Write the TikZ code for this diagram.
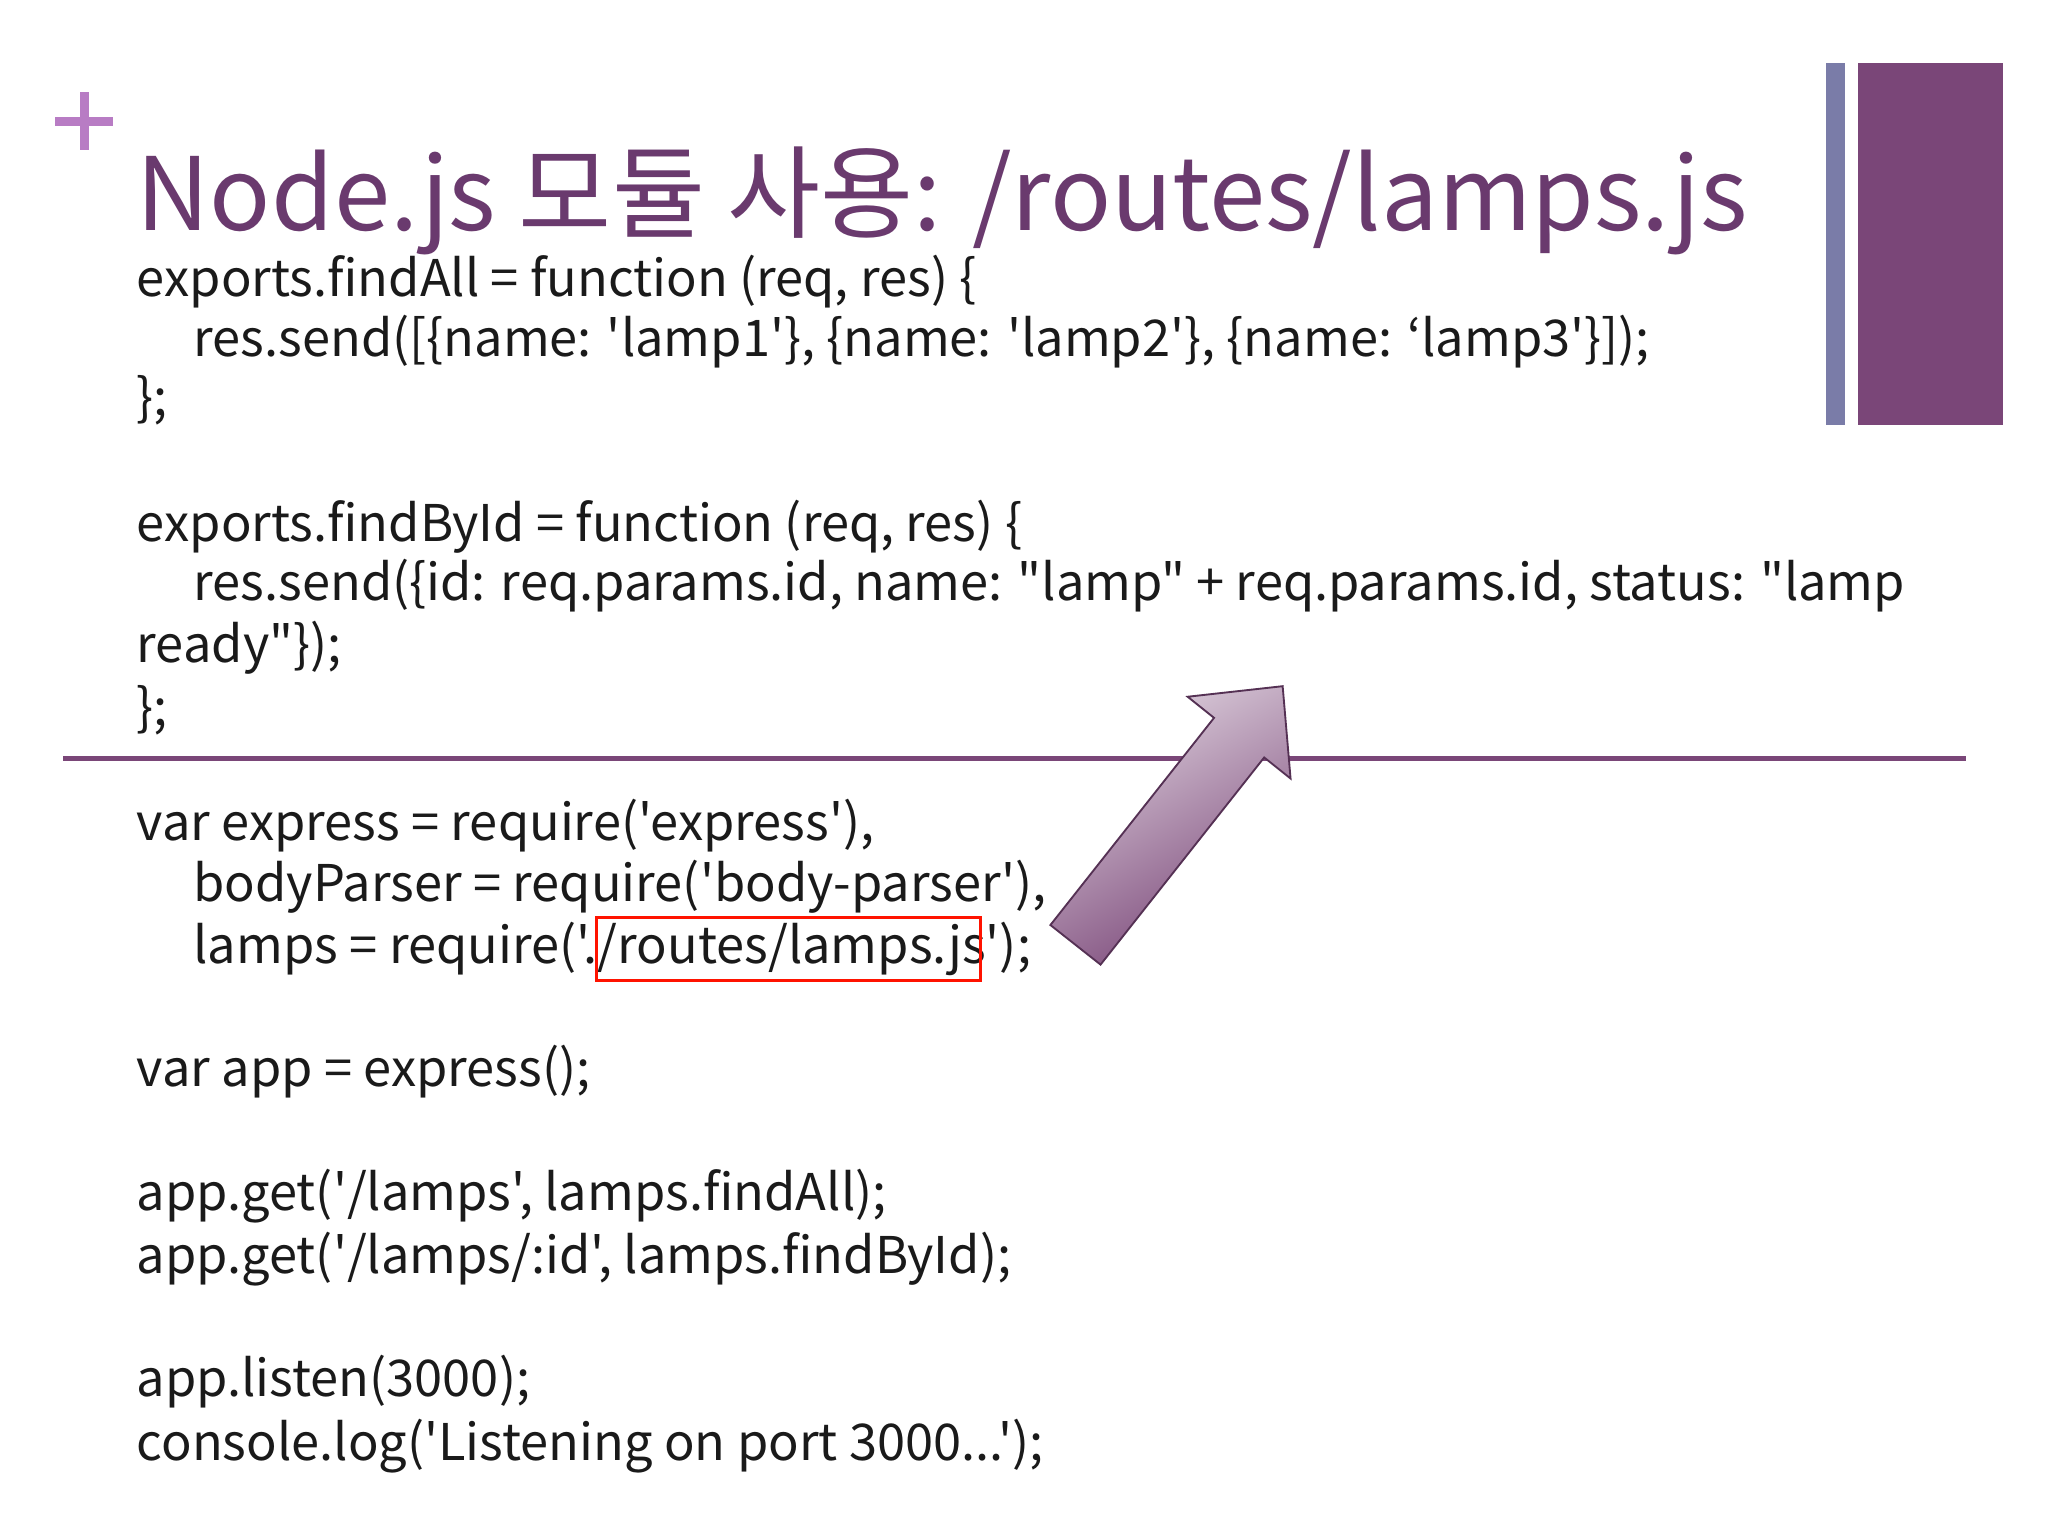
\documentclass[tikz,border=0pt]{standalone}
\usepackage{fontspec}
\setmainfont{Noto Sans CJK KR}[Ligatures=TeXReset]
\begin{document}
\begin{tikzpicture}[x=0.01cm,y=-0.01cm]
\definecolor{ttl}{HTML}{6A3A6E}
\definecolor{barA}{HTML}{7A7CA8}
\definecolor{barB}{HTML}{7A4678}
\definecolor{plusc}{HTML}{B87CC4}
\definecolor{codec}{HTML}{1A1A1A}
\tikzset{code/.style={anchor=base west,inner sep=0pt,font=\fontsize{10.9pt}{12pt}\selectfont,text=codec}}
\useasboundingbox (0,0) rectangle (1552,1164);
\fill[white] (0,0) rectangle (1552,1164);
\fill[barA] (1384,48) rectangle (1398,322);
\fill[barB] (1408,48) rectangle (1518,322);
\draw[plusc,line width=2pt] (42,92) -- (86,92) (64,70) -- (64,114);
\node[anchor=base west,inner sep=0pt,text=ttl,font=\fontsize{21.8pt}{24pt}\selectfont] (title) at (103,175) {Node.js 모듈 사용: /routes/lamps.js};
\node[code] (l1) at (103,225) {exports.findAll = function (req, res) \{};
\node[code] (l2) at (146,270) {res.send([\{name: 'lamp1'\}, \{name: 'lamp2'\}, \{name: ‘lamp3'\}]);};
\node[code] (l3) at (103,315) {\};};
\node[code] (l4) at (103,410) {exports.findById = function (req, res) \{};
\node[code] (l5) at (146,455) {res.send(\{id: req.params.id, name: "lamp" + req.params.id, status: "lamp};
\node[code] (l6) at (103,502) {ready"\});};
\node[code] (l7) at (103,550) {\};};
\draw[barB,line width=1pt] (48,575) -- (1490,575);
\node[code] (l8) at (103,637) {var express = require('express'),};
\node[code] (l9) at (146,683) {bodyParser = require('body-parser'),};
\node[code] (l10) at (146,730) {lamps = require('./routes/lamps.js');};
\node[code] (l11) at (103,823) {var app = express();};
\node[code] (l12) at (103,917) {app.get('/lamps', lamps.findAll);};
\node[code] (l13) at (103,965) {app.get('/lamps/:id', lamps.findById);};
\node[code] (l14) at (103,1058) {app.listen(3000);};
\node[code] (l15) at (103,1107) {console.log('Listening on port 3000...');};
\draw[red!85!orange,line width=0.6pt] (452,695) rectangle (743,743);
\shade[left color=white!75!barB,right color=barB,shading angle=30,draw=barB!70!black,line width=0.4pt]
 (796,701) -- (920,544) -- (900,528) -- (972,520) -- (978,590) -- (958,574) -- (834,731) -- cycle;
\end{tikzpicture}
\end{document}
